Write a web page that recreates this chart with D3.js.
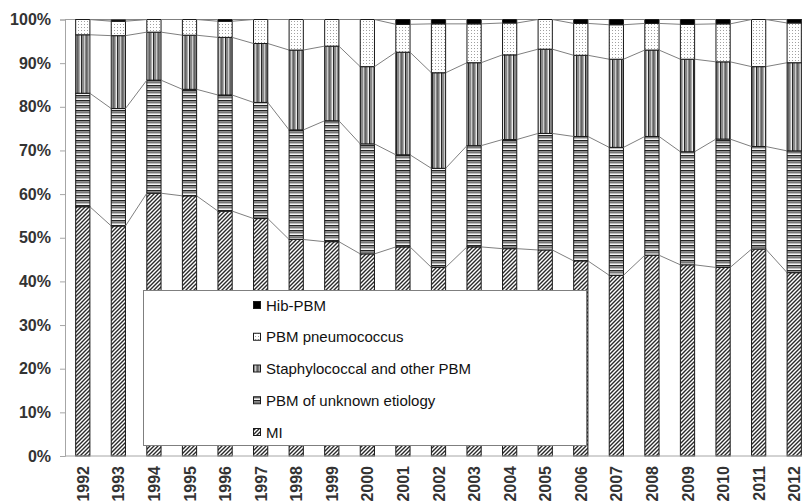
<!DOCTYPE html>
<html>
<head>
<meta charset="utf-8">
<script src="https://cdn.jsdelivr.net/npm/d3@7"></script>
<style>
  html, body { margin: 0; padding: 0; background: #fff; }
  svg { display: block; }
  text { font-family: "Liberation Sans", Arial, sans-serif; }
</style>
</head>
<body>
<svg id="chart" width="802" height="503"></svg>
<script>
// ---- data (percent shares per year, stacked bottom -> top) ----
const years = ["1992","1993","1994","1995","1996","1997","1998","1999","2000","2001","2002","2003","2004","2005","2006","2007","2008","2009","2010","2011","2012"];
const mi      = [57.1, 52.7, 60.2, 59.6, 56.1, 54.4, 49.6, 49.1, 46.3, 47.9, 43.2, 47.9, 47.5, 47.2, 44.7, 41.4, 46.0, 43.8, 43.2, 47.4, 42.0];
const unknown = [26.0, 26.9, 25.9, 24.4, 26.6, 26.6, 25.1, 27.7, 25.2, 21.1, 22.7, 23.2, 25.0, 26.7, 28.5, 29.3, 27.2, 25.9, 29.4, 23.5, 27.9];
const staph   = [13.4, 16.7, 11.0, 12.4, 13.2, 13.5, 18.3, 17.1, 17.7, 23.5, 21.9, 19.0, 19.4, 19.3, 18.6, 20.2, 19.8, 21.2, 17.7, 18.3, 20.2];
const pneumo  = [3.5, 3.3, 2.9, 3.6, 3.7, 5.5, 7.0, 6.1, 10.8, 6.4, 11.2, 8.9, 7.3, 6.8, 7.3, 7.9, 6.1, 8.0, 8.7, 10.8, 9.1];
const hib     = [0, 0.3, 0, 0, 0.4, 0, 0, 0, 0, 1.1, 1.0, 1.0, 0.8, 0, 0.9, 1.2, 0.9, 1.1, 1.0, 0, 0.8];
const seriesNames = ["MI", "PBM of unknown etiology", "Staphylococcal and other PBM", "PBM pneumococcus", "Hib-PBM"];
const yTicks = [0, 10, 20, 30, 40, 50, 60, 70, 80, 90, 100];
const legendOrder = ["Hib-PBM", "PBM pneumococcus", "Staphylococcal and other PBM", "PBM of unknown etiology", "MI"];

// ---- build table ----
const table = years.map((yr, i) => ({
  year: yr,
  "MI": mi[i],
  "PBM of unknown etiology": unknown[i],
  "Staphylococcal and other PBM": staph[i],
  "PBM pneumococcus": pneumo[i],
  "Hib-PBM": hib[i]
}));
const stacked = d3.stack().keys(seriesNames)(table);

const svg = d3.select("#chart");

// ---- patterns ----
const defs = svg.append("defs");
const fills = {};
// MI: diagonal hatch
{
  const p = defs.append("pattern").attr("id", "pMI").attr("patternUnits", "userSpaceOnUse")
    .attr("width", 4).attr("height", 4);
  p.append("rect").attr("width", 4).attr("height", 4).attr("fill", "#fff");
  p.append("path").attr("d", "M-1,1 L1,-1 M0,4 L4,0 M3,5 L5,3").attr("stroke", "#2a2a2a").attr("stroke-width", 1.4);
  fills["MI"] = "url(#pMI)";
}
// Unknown: horizontal stripes
{
  const p = defs.append("pattern").attr("id", "pUnk").attr("patternUnits", "userSpaceOnUse")
    .attr("width", 5).attr("height", 5);
  p.append("rect").attr("y", 0).attr("width", 5).attr("height", 1.3).attr("fill", "#222");
  p.append("rect").attr("y", 1.3).attr("width", 5).attr("height", 1.9).attr("fill", "#777");
  p.append("rect").attr("y", 3.2).attr("width", 5).attr("height", 0.9).attr("fill", "#b0b0b0");
  p.append("rect").attr("y", 4.1).attr("width", 5).attr("height", 0.9).attr("fill", "#f4f4f4");
  fills["PBM of unknown etiology"] = "url(#pUnk)";
}
// Staph: vertical stripes
{
  const p = defs.append("pattern").attr("id", "pSta").attr("patternUnits", "userSpaceOnUse")
    .attr("width", 4.5).attr("height", 5);
  p.append("rect").attr("x", 0).attr("width", 1.2).attr("height", 5).attr("fill", "#222");
  p.append("rect").attr("x", 1.2).attr("width", 1.7).attr("height", 5).attr("fill", "#777");
  p.append("rect").attr("x", 2.9).attr("width", 0.8).attr("height", 5).attr("fill", "#a8a8a8");
  p.append("rect").attr("x", 3.7).attr("width", 0.8).attr("height", 5).attr("fill", "#eee");
  fills["Staphylococcal and other PBM"] = "url(#pSta)";
}
// Pneumo: sparse dots
{
  const p = defs.append("pattern").attr("id", "pPn").attr("patternUnits", "userSpaceOnUse")
    .attr("width", 3).attr("height", 3);
  p.append("rect").attr("width", 3).attr("height", 3).attr("fill", "#fff");
  p.append("rect").attr("x", 0).attr("y", 0).attr("width", 1).attr("height", 1).attr("fill", "#a0a0a0");
  fills["PBM pneumococcus"] = "url(#pPn)";
}
fills["Hib-PBM"] = "#000";

// ---- scales ----
const x = d3.scaleBand().domain(years).range([65, 812]).paddingInner(0.6).paddingOuter(0.3);
const y = d3.scaleLinear().domain([0, 100]).range([456, 19.5]);
const bw = x.bandwidth();

// ---- y axis ----
const yAxis = svg.append("g").attr("transform", "translate(65,0)")
  .call(d3.axisLeft(y).tickValues(yTicks).tickFormat(d => d + "%").tickSize(5).tickPadding(9));
yAxis.select(".domain").attr("stroke", "#a6a6a6");
yAxis.selectAll(".tick line").attr("stroke", "#a6a6a6");
yAxis.selectAll(".tick text").attr("font-size", 16).attr("font-weight", "bold").attr("fill", "#333")
  .attr("font-family", "'Liberation Sans', Arial, sans-serif");

// top line at 100%
svg.append("line").attr("x1", 65).attr("x2", 802).attr("y1", y(100)).attr("y2", y(100))
  .attr("stroke", "#a0a0a0").attr("stroke-width", 1.2);

// ---- bars ----
const gBars = svg.append("g");
stacked.forEach(s => {
  gBars.append("g").selectAll("rect").data(s).join("rect")
    .attr("x", d => x(d.data.year))
    .attr("y", d => y(d[1]))
    .attr("width", bw)
    .attr("height", d => Math.max(0, y(d[0]) - y(d[1])))
    .attr("fill", fills[s.key])
    .attr("stroke", "#1a1a1a")
    .attr("stroke-width", d => (d[1] - d[0]) > 0 ? 1 : 0);
});

// ---- series lines ----
const gLines = svg.append("g");
stacked.forEach(s => {
  for (let i = 0; i < s.length - 1; i++) {
    gLines.append("line")
      .attr("x1", x(years[i]) + bw).attr("y1", y(s[i][1]))
      .attr("x2", x(years[i + 1])).attr("y2", y(s[i + 1][1]))
      .attr("stroke", "#7f7f7f").attr("stroke-width", 1);
  }
});

// ---- x axis ----
svg.append("line").attr("x1", 65).attr("x2", 802).attr("y1", y(0)).attr("y2", y(0))
  .attr("stroke", "#a6a6a6").attr("stroke-width", 1);
svg.append("g").selectAll("text").data(years).join("text")
  .attr("transform", d => `translate(${x(d) + bw / 2 + 6},466) rotate(-90)`)
  .attr("text-anchor", "end")
  .attr("font-size", 16).attr("font-weight", "bold").attr("fill", "#333")
  .text(d => d);

// ---- legend ----
const lg = svg.append("g");
lg.append("rect").attr("x", 143.5).attr("y", 290.5).attr("width", 443).attr("height", 155)
  .attr("fill", "#fff").attr("stroke", "#7f7f7f").attr("stroke-width", 1);
const legY = d3.scalePoint().domain(legendOrder).range([305, 432]);
legendOrder.forEach(name => {
  const cy = legY(name);
  lg.append("rect").attr("x", 253.5).attr("y", cy - 3.5).attr("width", 7).attr("height", 7)
    .attr("fill", fills[name]).attr("stroke", "#1a1a1a").attr("stroke-width", 1);
  lg.append("text").attr("x", 266).attr("y", cy + 5.5)
    .attr("font-size", 15).attr("fill", "#111").text(name);
});
</script>
</body>
</html>
